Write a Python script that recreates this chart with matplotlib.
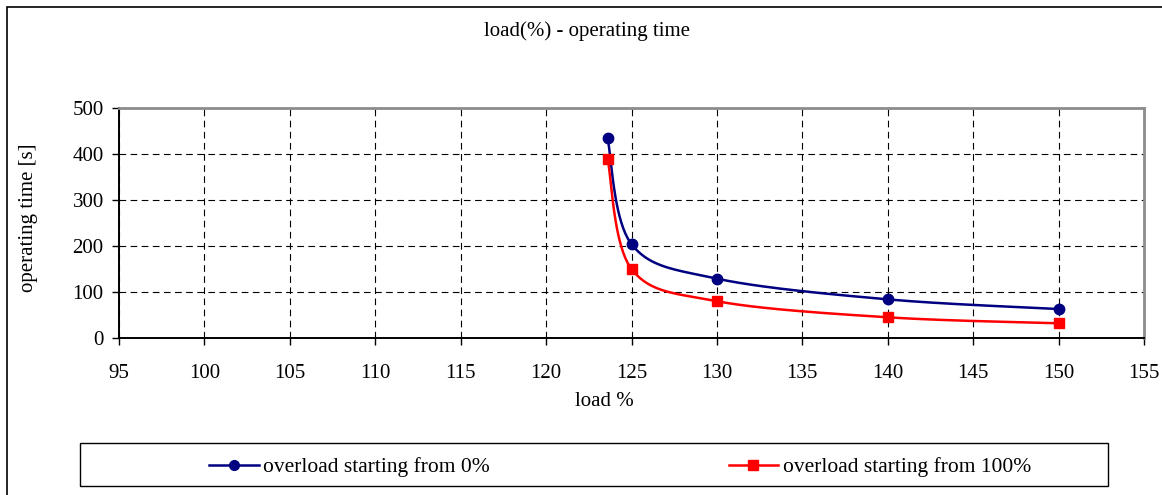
import numpy as np
import matplotlib
matplotlib.use("Agg")
import matplotlib.pyplot as plt
from matplotlib.patches import Rectangle

plt.rcParams['font.family'] = ['Liberation Serif', 'DejaVu Serif']
plt.rcParams['font.size'] = 15

# data
load_pct = [123.6, 125, 130, 140, 150]
time_from_0 = [434, 204, 129, 84, 63]
time_from_100 = [390, 150, 80, 45, 32]

x_ticks = [95, 100, 105, 110, 115, 120, 125, 130, 135, 140, 145, 150, 155]
y_ticks = [0, 100, 200, 300, 400, 500]

W, H = 1162, 495
FS = 15
fig = plt.figure(figsize=(W / 100, H / 100), dpi=100)
fig.patch.set_facecolor('white')

# outer chart-area frame (right/bottom run off the picture)
fig.patches.append(Rectangle((7 / W, -0.05), 1.1, 1 - 7 / H + 0.05,
                             transform=fig.transFigure, fill=False,
                             edgecolor='black', lw=1.2))

ax = fig.add_axes([119 / W, 1 - 338 / H, (1144 - 119) / W, (338 - 108) / H])
ax.set_xlim(95, 155)
ax.set_ylim(0, 500)
ax.set_xticks(x_ticks)
ax.set_yticks(y_ticks)

ax.grid(True, color='black', lw=0.8, linestyle=(0, (6, 4)))
ax.set_axisbelow(True)
for side in ['top', 'right']:
    ax.spines[side].set_color('#8c8c8c')
    ax.spines[side].set_linewidth(2.0)
for side in ['left', 'bottom']:
    ax.spines[side].set_color('black')
    ax.spines[side].set_linewidth(1.4)
ax.tick_params(axis='x', direction='out', length=5, width=1, pad=14, labelsize=FS)
ax.tick_params(axis='y', direction='out', length=5, width=1, pad=6, labelsize=FS)

fig.text(587 / W, 1 - 31 / H, 'load(%) - operating time', ha='center', va='center', fontsize=FS)
fig.text(29 / W, 1 - 218 / H, 'operating time [s]', ha='center', va='center',
         rotation=90, fontsize=FS)
fig.text(604 / W, 1 - 401 / H, 'load %', ha='center', va='center', fontsize=FS)


# Excel-style smoothed line (bezier through the points, done in screen space)
def smooth(xs, ys, n=40):
    pts = ax.transData.transform(np.column_stack([xs, ys]))
    p = np.vstack([pts[0], pts, pts[-1]])
    out = []
    t = np.linspace(0, 1, n)[:, None]
    for i in range(1, len(p) - 2):
        p0, p3 = p[i], p[i + 1]
        c1 = p0 + (p[i + 1] - p[i - 1]) / 6
        c2 = p3 - (p[i + 2] - p[i]) / 6
        seg = ((1 - t) ** 3) * p0 + 3 * ((1 - t) ** 2) * t * c1 + 3 * (1 - t) * t ** 2 * c2 + t ** 3 * p3
        out.append(seg)
    seg = ax.transData.inverted().transform(np.vstack(out))
    return seg[:, 0], seg[:, 1]


sx, sy = smooth(load_pct, time_from_0)
ax.plot(sx, sy, color='#000080', lw=1.8, zorder=3)
ax.plot(load_pct, time_from_0, 'o', color='#000080', ms=7.5, zorder=4)
sx, sy = smooth(load_pct, time_from_100)
ax.plot(sx, sy, color='#ff0000', lw=1.8, zorder=3)
ax.plot(load_pct, time_from_100, 's', color='#ff0000', ms=7.5, zorder=4)

# legend box
fig.patches.append(Rectangle((80 / W, 1 - 486 / H), (1108 - 80) / W, 43 / H,
                             transform=fig.transFigure, fill=False,
                             edgecolor='black', lw=1.0))
h1, = ax.plot([], [], '-o', color='#000080', lw=1.8, ms=7)
h2, = ax.plot([], [], '-s', color='#ff0000', lw=1.8, ms=7)
fig.legend([h1, h2], ['overload starting from 0%', 'overload starting from 100%'],
           loc='center', bbox_to_anchor=(620 / W, 1 - 467 / H), ncol=2,
           frameon=False, handlelength=2.3, handletextpad=0.2,
           columnspacing=11.1, fontsize=15.5)

fig.savefig('out.png', dpi=100, facecolor='white')
